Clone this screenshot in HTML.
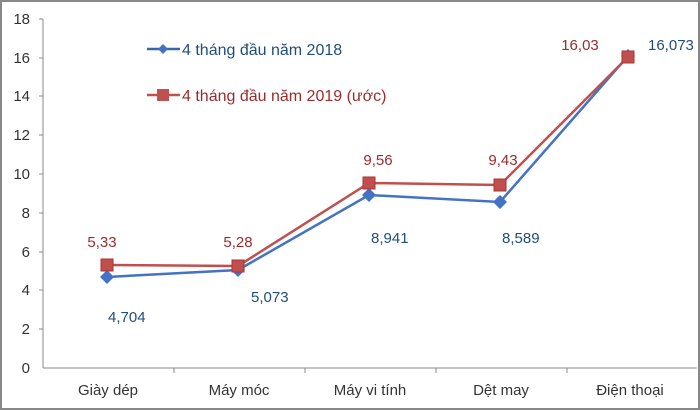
<!DOCTYPE html>
<html><head><meta charset="utf-8"><style>
html,body{margin:0;padding:0;background:#fff}
svg{display:block}
text{font-family:"Liberation Sans","DejaVu Sans",sans-serif}
</style></head><body>
<svg width="700" height="410" viewBox="0 0 700 410">
<rect x="1" y="1" width="698" height="408" fill="#fff" stroke="#888" stroke-width="2"/>
<g stroke="#888" stroke-width="1">
<line x1="43" y1="19" x2="43" y2="368"/>
<line x1="43" y1="368" x2="697" y2="368"/>
<line x1="39" y1="19" x2="43" y2="19"/><line x1="39" y1="58" x2="43" y2="58"/>
<line x1="39" y1="96" x2="43" y2="96"/><line x1="39" y1="135" x2="43" y2="135"/>
<line x1="39" y1="174" x2="43" y2="174"/><line x1="39" y1="213" x2="43" y2="213"/>
<line x1="39" y1="252" x2="43" y2="252"/><line x1="39" y1="290" x2="43" y2="290"/>
<line x1="39" y1="329" x2="43" y2="329"/>
<line x1="174" y1="368" x2="174" y2="373"/><line x1="305" y1="368" x2="305" y2="373"/>
<line x1="436" y1="368" x2="436" y2="373"/><line x1="567" y1="368" x2="567" y2="373"/>
</g>
<g font-size="15" fill="#333" text-anchor="end">
<text x="30" y="24">18</text><text x="30" y="63">16</text><text x="30" y="101">14</text>
<text x="30" y="140">12</text><text x="30" y="179">10</text><text x="30" y="218">8</text>
<text x="30" y="257">6</text><text x="30" y="295">4</text><text x="30" y="334">2</text>
<text x="30" y="373">0</text>
</g>
<g font-size="15" fill="#333" text-anchor="middle">
<text x="108" y="395">Giày dép</text><text x="239" y="395">Máy móc</text>
<text x="370" y="395">Máy vi tính</text><text x="501" y="395">Dệt may</text>
<text x="630" y="395">Điện thoại</text>
</g>
<polyline points="107,277 238,270 369,195 500,202 628,56" fill="none" stroke="#4472c4" stroke-width="2.5"/>
<g fill="#4472c4">
<polygon points="107,270 114,277 107,284 100,277"/><polygon points="238,263 245,270 238,277 231,270"/>
<polygon points="369,188 376,195 369,202 362,195"/><polygon points="500,195 507,202 500,209 493,202"/>
<polygon points="628,49 635,56 628,63 621,56"/>
</g>
<polyline points="107,265 238,266 369,183 500,185 628,57" fill="none" stroke="#c0504d" stroke-width="2.5"/>
<g fill="#c0504d" stroke="#a33" stroke-width="1">
<rect x="101" y="259" width="12" height="12"/><rect x="232" y="260" width="12" height="12"/>
<rect x="363" y="177" width="12" height="12"/><rect x="494" y="179" width="12" height="12"/>
<rect x="622" y="51" width="12" height="12"/>
</g>
<g font-size="15" fill="#1f4e79">
<text x="108" y="322" text-anchor="start">4,704</text>
<text x="251" y="302">5,073</text>
<text x="371" y="243">8,941</text>
<text x="502" y="243">8,589</text>
<text x="648" y="50">16,073</text>
</g>
<g font-size="15" fill="#9b2b2b" text-anchor="middle">
<text x="102" y="247">5,33</text><text x="238" y="247">5,28</text>
<text x="378" y="165">9,56</text><text x="503" y="165">9,43</text>
<text x="580" y="50">16,03</text>
</g>
<line x1="147" y1="49" x2="180" y2="49" stroke="#3a66a8" stroke-width="2.5"/>
<polygon points="163,44 168,49 163,54 158,49" fill="#4472c4"/>
<text x="182" y="55" font-size="16" fill="#1f4e79">4 tháng đầu năm 2018</text>
<line x1="147" y1="95" x2="180" y2="95" stroke="#c0504d" stroke-width="2.5"/>
<rect x="157" y="89" width="12" height="12" fill="#c0504d"/>
<text x="182" y="101" font-size="16" fill="#9b2b2b">4 tháng đầu năm 2019 (ước)</text>
</svg>
</body></html>
